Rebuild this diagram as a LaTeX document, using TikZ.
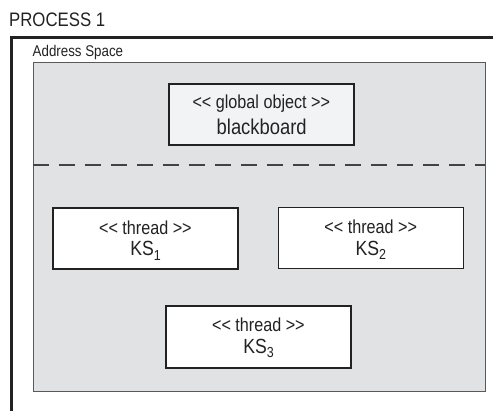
\documentclass[tikz,border=0pt]{standalone}
\usepackage{fontspec}
\setmainfont{Liberation Sans}[FakeStretch=0.86]
\newcommand\dlt{\mbox{<}\mbox{<}}
\newcommand\dgt{\mbox{>}\mbox{>}}
\newcommand\subn[1]{\raisebox{-4.5pt}{\fontsize{14.5}{15}\selectfont #1}}
\definecolor{areagray}{HTML}{E1E2E4}
\definecolor{bbfill}{HTML}{F2F3F5}
\definecolor{ink}{HTML}{222222}
\begin{document}
\begin{tikzpicture}[x=1pt,y=-1pt,
  box/.style={draw=ink,line width=1.3pt,minimum width=185pt,minimum height=61pt,inner sep=0pt},
  lbl/.style={anchor=base,inner sep=0pt,text=ink},
  stereo/.style={lbl,font=\fontsize{18.8}{21}\selectfont},
  bignm/.style={lbl,font=\fontsize{20.5}{22}\selectfont},
]
\useasboundingbox (0,0) rectangle (497,411);
% process frame
\draw[ink,line width=2.6pt] (11.3,411) -- (11.3,37.7) -- (493,37.7);
\node[anchor=base west,inner sep=0pt,text=ink,font=\fontsize{19.5}{22}\selectfont] (proc) at (9,27) {PROCESS 1};
% address space
\node[anchor=base west,inner sep=0pt,text=ink,font=\fontsize{15.5}{18}\selectfont] (addr) at (32.5,56.5) {Address Space};
\draw[draw=black!65,line width=1pt,fill=areagray] (33.3,63) rectangle (485,391.7);
\draw[ink!85,line width=1.3pt,dash pattern=on 16pt off 10pt] (33.3,165) -- (485,165);
% blackboard
\node[box,fill=bbfill] (bb) at (261.5,114.5) {};
\node[stereo] (bbs) at (261.3,109) {\dlt{} global object \dgt};
\node[lbl,font=\fontsize{21.4}{23}\selectfont] (bbn) at (261.7,134.3) {blackboard};
% threads
\node[box,fill=white] (ks1) at (145.5,238.5) {};
\node[stereo] (ks1s) at (145.4,234.5) {\dlt{} thread \dgt};
\node[bignm] (ks1n) at (145.5,255.8) {KS\subn{1}};
\node[box,fill=white] (ks2) at (370.8,237.8) {};
\node[stereo] (ks2s) at (370.7,233.8) {\dlt{} thread \dgt};
\node[bignm] (ks2n) at (370.8,255.1) {KS\subn{2}};
\node[box,fill=white,minimum height=62pt] (ks3) at (258.5,337) {};
\node[stereo] (ks3s) at (258.4,331.5) {\dlt{} thread \dgt};
\node[bignm] (ks3n) at (258.5,353) {KS\subn{3}};
\end{tikzpicture}
\end{document}
